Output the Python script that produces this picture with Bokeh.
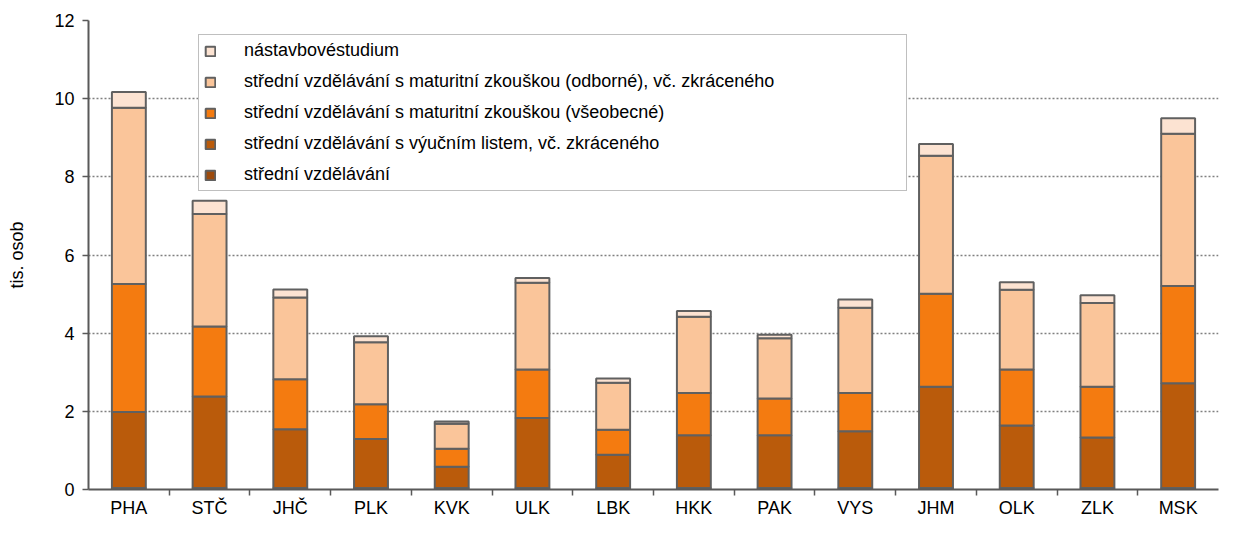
from bokeh.plotting import figure
from bokeh.models import ColumnDataSource, Range1d, FixedTicker, Legend, LegendItem
from bokeh.embed import file_html
from bokeh.resources import INLINE

categories = ["PHA", "STČ", "JHČ", "PLK", "KVK", "ULK", "LBK", "HKK", "PAK", "VYS", "JHM", "OLK", "ZLK", "MSK"]

series_names = [
    "střední vzdělávání",
    "střední vzdělávání s výučním listem, vč. zkráceného",
    "střední vzdělávání s maturitní zkouškou (všeobecné)",
    "střední vzdělávání s maturitní zkouškou (odborné), vč. zkráceného",
    "nástavbovéstudium",
]

stredni = [0.04, 0.04, 0.04, 0.04, 0.04, 0.04, 0.04, 0.04, 0.04, 0.04, 0.04, 0.04, 0.04, 0.04]
vyucni = [1.94, 2.34, 1.50, 1.25, 0.54, 1.79, 0.85, 1.35, 1.35, 1.45, 2.59, 1.60, 1.29, 2.68]
maturita_vseob = [3.28, 1.79, 1.28, 0.89, 0.46, 1.24, 0.64, 1.08, 0.94, 0.98, 2.38, 1.43, 1.30, 2.49]
maturita_odb = [4.51, 2.88, 2.09, 1.59, 0.64, 2.22, 1.20, 1.95, 1.54, 2.18, 3.53, 2.04, 2.14, 3.89]
nastavbove = [0.40, 0.34, 0.21, 0.15, 0.06, 0.12, 0.11, 0.15, 0.09, 0.21, 0.30, 0.19, 0.20, 0.40]

colors = ["#9C4A0C", "#BA5B0B", "#F47B10", "#FAC59A", "#FCE3D2"]
FONT = "Liberation Sans"

n = len(categories)
xpos = list(range(n))
keys = ["s0", "s1", "s2", "s3", "s4"]
src = ColumnDataSource(dict(x=xpos, s0=stredni, s1=vyucni, s2=maturita_vseob,
                            s3=maturita_odb, s4=nastavbove))

p = figure(width=1222, height=520, x_range=Range1d(-0.5, n - 0.5), y_range=Range1d(0, 12),
           output_backend="svg", toolbar_location=None,
           min_border_left=88, min_border_right=4, min_border_top=20, min_border_bottom=26)
p.outline_line_color = None
p.background_fill_color = "white"
p.border_fill_color = "white"

rs = p.vbar_stack(keys, x="x", width=0.42, source=src, fill_color=colors,
                  line_color="#606060", line_width=2)

items = [LegendItem(label=series_names[i], renderers=[rs[i]]) for i in reversed(range(5))]
legend = Legend(items=items, location=(110, 298), padding=5, spacing=10,
                glyph_width=12, glyph_height=12, label_height=21, label_standoff=28,
                label_width=657, label_text_font=FONT, label_text_font_size="18px",
                label_text_color="black",
                border_line_color="#7F7F7F", border_line_width=1.5,
                background_fill_color="white", background_fill_alpha=1.0, margin=0)
p.add_layout(legend)

# y axis
p.yaxis.ticker = FixedTicker(ticks=[0, 2, 4, 6, 8, 10, 12])
p.yaxis.axis_label = "tis. osob"
p.yaxis.axis_label_text_font = FONT
p.yaxis.axis_label_text_font_size = "18px"
p.yaxis.axis_label_text_font_style = "normal"
p.yaxis.axis_label_text_color = "black"
p.yaxis.axis_label_standoff = 24
p.yaxis.major_label_text_font = FONT
p.yaxis.major_label_text_font_size = "18px"
p.yaxis.major_label_text_color = "black"
p.yaxis.major_label_standoff = 8
p.yaxis.axis_line_color = "#595959"
p.yaxis.axis_line_width = 2
p.yaxis.major_tick_line_color = "#595959"
p.yaxis.major_tick_line_width = 1.5
p.yaxis.major_tick_out = 6
p.yaxis.major_tick_in = 0
p.yaxis.minor_tick_line_color = None

# x axis: labels at category centres, small ticks between categories
p.xaxis.ticker = FixedTicker(ticks=xpos, minor_ticks=[i + 0.5 for i in range(n - 1)])
p.xaxis.major_label_overrides = {i: c for i, c in zip(xpos, categories)}
p.xaxis.major_label_text_font = FONT
p.xaxis.major_label_text_font_size = "18px"
p.xaxis.major_label_text_color = "black"
p.xaxis.major_label_standoff = 2
p.xaxis.axis_label_standoff = 0
p.xaxis.axis_line_color = "#595959"
p.xaxis.axis_line_width = 2
p.xaxis.major_tick_line_color = None
p.xaxis.major_tick_out = 0
p.xaxis.major_tick_in = 0
p.xaxis.minor_tick_line_color = "#595959"
p.xaxis.minor_tick_line_width = 1.5
p.xaxis.minor_tick_out = 6
p.xaxis.minor_tick_in = 0

p.xgrid.visible = False
p.ygrid.grid_line_color = "#808080"
p.ygrid.grid_line_dash = "2 2"
p.ygrid.grid_line_width = 1.5

open("out.html", "w").write(file_html(p, INLINE))
